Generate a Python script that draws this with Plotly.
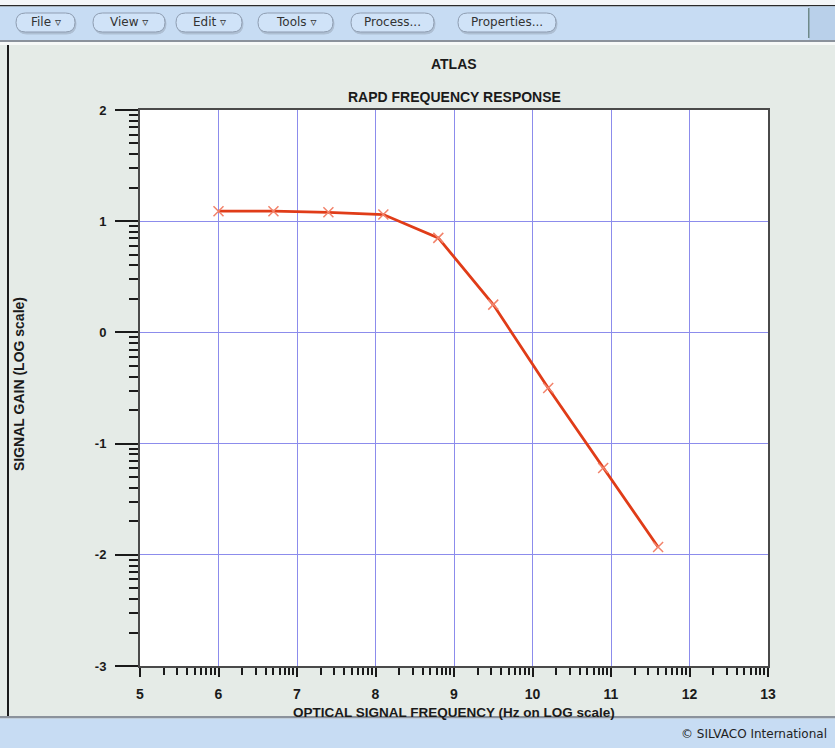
import math
import plotly.graph_objects as go

# ---- data ----
freq_log = [6.0, 6.7, 7.4, 8.1, 8.8, 9.5, 10.2, 10.9, 11.6]
gain_log = [1.09, 1.09, 1.08, 1.06, 0.85, 0.25, -0.50, -1.22, -1.93]
x_ticks = [5, 6, 7, 8, 9, 10, 11, 12, 13]
y_ticks = [-3, -2, -1, 0, 1, 2]
menu_labels = ["File \u25bf", "View \u25bf", "Edit \u25bf", "Tools \u25bf", "Process...", "Properties..."]

W, H = 835, 748
L, R, T, B = 140, 768, 110, 666

def px(x):
    return (x - L) / (R - L)

def py(y):
    return (B - y) / (B - T)

shapes = []
annotations = []

def rect(x0, y0, x1, y1, fill):
    shapes.append(dict(type="rect", xref="paper", yref="paper",
                       x0=px(x0), x1=px(x1), y0=py(y1), y1=py(y0),
                       fillcolor=fill, line=dict(color=fill, width=0),
                       layer="above"))

def pill(x0, y0, x1, y1, fill, line):
    r = (y1 - y0) / 2
    def P(a, b):
        return f"{px(a):.5f},{py(b):.5f}"
    path = (f"M {P(x0 + r, y0)} L {P(x1 - r, y0)} Q {P(x1, y0)} {P(x1, y0 + r)} "
            f"Q {P(x1, y1)} {P(x1 - r, y1)} L {P(x0 + r, y1)} Q {P(x0, y1)} {P(x0, y0 + r)} "
            f"Q {P(x0, y0)} {P(x0 + r, y0)} Z")
    shapes.append(dict(type="path", xref="paper", yref="paper", path=path,
                       fillcolor=fill, line=dict(color=line, width=1), layer="above"))

# toolbar
rect(0, 0, W, 5, "#f4f6f8")
rect(0, 5, W, 6.5, "#2a2a2a")
rect(0, 6.5, W, 40, "#c7dcf3")
rect(809, 6.5, W, 40, "#b9d0ea")
rect(808, 8, 809.5, 38, "#6f8a8a")
rect(0, 40, W, 42, "#8b929c")
rect(0, 42, W, 45, "#f7f9f8")
# bottom strip
rect(0, 716, W, 718.5, "#8b929c")
rect(0, 718.5, W, H, "#c7dcf3")
# left border
rect(7, 45, 9, 716, "#1a1a1a")

btn_x = [(16, 75), (93, 165), (176, 242), (258, 333), (351, 434), (458, 556)]
for (a, b), lab in zip(btn_x, menu_labels):
    pill(a + 1, 14, b + 1, 34, "#aebfd3", "#aebfd3")
    pill(a, 13, b, 32, "#d0e3f8", "#8e9db1")
    annotations.append(dict(xref="paper", yref="paper", x=px((a + b) / 2), y=py(22.5),
                            text=lab, showarrow=False, xanchor="center", yanchor="middle",
                            font=dict(family="DejaVu Sans", size=12, color="#333")))

title_font = dict(family="Liberation Sans, Arial", size=14, color="#1a1a1a", weight="bold")
# titles
annotations.append(dict(xref="paper", yref="paper", x=px((L + R) / 2), y=py(64), text="ATLAS",
                        showarrow=False, yanchor="middle", font=title_font))
annotations.append(dict(xref="paper", yref="paper", x=px((L + R) / 2), y=py(97),
                        text="RAPD FREQUENCY RESPONSE", showarrow=False, yanchor="middle",
                        font=title_font))
annotations.append(dict(xref="paper", yref="paper", x=px((L + R) / 2), y=py(712),
                        text="OPTICAL SIGNAL FREQUENCY (Hz on LOG scale)", showarrow=False,
                        yanchor="middle",
                        font=dict(family="Liberation Sans, Arial", size=13.5,
                                  color="#1a1a1a", weight="bold")))
annotations.append(dict(xref="paper", yref="paper", x=px(19), y=py(384),
                        text="SIGNAL GAIN (LOG scale)", showarrow=False, textangle=-90,
                        xanchor="center", yanchor="middle",
                        font=dict(family="Liberation Sans, Arial", size=14,
                                  color="#1a1a1a", weight="bold")))
annotations.append(dict(xref="paper", yref="paper", x=px(829), y=py(734),
                        text="\u00a9 SILVACO International", showarrow=False,
                        xanchor="right", yanchor="middle",
                        font=dict(family="DejaVu Sans", size=12, color="#222")))

minor_x = [n + math.log10(k) for n in range(5, 13) for k in range(2, 10)]
minor_y = [n + math.log10(k) for n in range(-3, 2) for k in range(2, 10)]

fig = go.Figure()
fig.add_trace(go.Scatter(
    x=freq_log, y=gain_log, mode="lines+markers",
    line=dict(color="#e03c18", width=2.8),
    marker=dict(symbol="x-thin", size=10, line=dict(color="#f2826a", width=1.5)),
    showlegend=False, hoverinfo="x+y"))

axis_common = dict(showline=True, linecolor="#4a4a4a", linewidth=2, mirror=True,
                   gridcolor="#8c8cec", gridwidth=1.3, zeroline=False,
                   tickcolor="#1a1a1a", ticks="outside")

fig.update_xaxes(range=[5, 13], tickvals=x_ticks, ticktext=[str(v) for v in x_ticks],
                 ticklen=9, tickwidth=2, ticklabelstandoff=5,
                 tickfont=dict(family="Liberation Sans Narrow, Liberation Sans", size=14,
                               color="#1a1a1a", weight="bold"),
                 minor=dict(tickvals=minor_x, ticks="outside", ticklen=7, tickwidth=1.5,
                            tickcolor="#1a1a1a", showgrid=False),
                 **axis_common)
fig.update_yaxes(range=[-3, 2], tickvals=y_ticks, ticktext=[str(v) for v in y_ticks],
                 ticklen=23, tickwidth=2, ticklabelstandoff=6,
                 tickfont=dict(family="Liberation Sans, Arial", size=13,
                               color="#1a1a1a", weight="bold"),
                 minor=dict(tickvals=minor_y, ticks="outside", ticklen=9, tickwidth=1.5,
                            tickcolor="#1a1a1a", showgrid=False),
                 **axis_common)

fig.update_layout(width=W, height=H, margin=dict(l=L, r=W - R, t=T, b=H - B, pad=0),
                  paper_bgcolor="#e5ebe7", plot_bgcolor="#ffffff",
                  shapes=shapes, annotations=annotations, showlegend=False)

fig.write_html("out.html")
